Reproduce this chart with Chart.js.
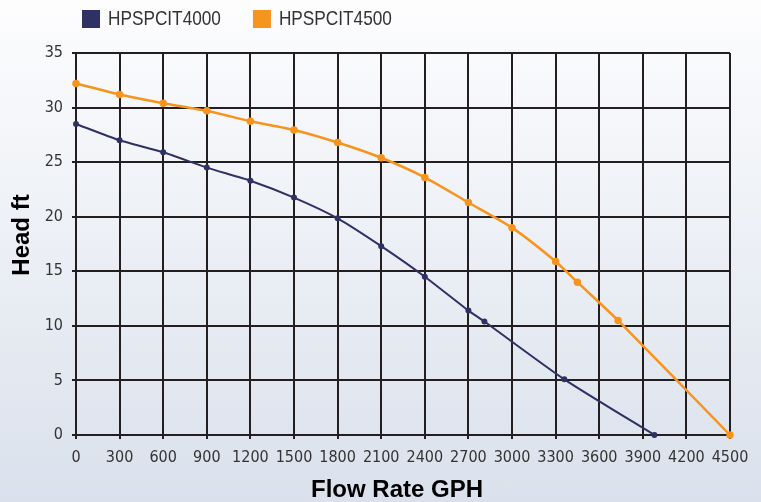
<!DOCTYPE html>
<html><head><meta charset="utf-8">
<script src="https://cdn.jsdelivr.net/npm/chart.js@4.4.1/dist/chart.umd.min.js"></script>
<style>
html,body{margin:0;padding:0;}
body{width:761px;height:502px;background:linear-gradient(to bottom,#fdfdfe 0%,#dae1ec 100%);overflow:hidden;}
canvas{display:block;}
</style></head><body>
<canvas id="c" width="761" height="502"></canvas>
<script>
const seriesNames = ['HPSPCIT4000', 'HPSPCIT4500'];
const seriesColors = ['#2f3063', '#f7941d'];
const flow4000 = [0, 300, 600, 900, 1200, 1500, 1800, 2100, 2400, 2700, 2810, 3360, 3980];
const head4000 = [28.5, 27.0, 25.9, 24.5, 23.3, 21.75, 19.85, 17.3, 14.5, 11.4, 10.4, 5.1, 0];
const flow4500 = [0, 300, 600, 900, 1200, 1500, 1800, 2100, 2400, 2700, 3000, 3300, 3450, 3730, 4500];
const head4500 = [32.2, 31.2, 30.4, 29.7, 28.75, 27.95, 26.8, 25.4, 23.6, 21.3, 19.0, 15.9, 14.0, 10.5, 0];
const xTickValues = [0, 300, 600, 900, 1200, 1500, 1800, 2100, 2400, 2700, 3000, 3300, 3600, 3900, 4200, 4500];
const yTickValues = [0, 5, 10, 15, 20, 25, 30, 35];
const xTitle = 'Flow Rate GPH';
const yTitle = 'Head ft';

const TICKFONT = "'DejaVu Sans Condensed', 'Liberation Sans Narrow', 'Liberation Sans', sans-serif";
const SANS = "'Liberation Sans', Arial, sans-serif";
const GRID = '#231f20';

const pts = (xs, ys) => xs.map((x, i) => ({x: x, y: ys[i]}));

const overlay = {
  id: 'overlay',
  afterDraw(chart) {
    const ctx = chart.ctx;
    ctx.save();
    // legend (condensed Helvetica look)
    ctx.textBaseline = 'middle';
    ctx.textAlign = 'left';
    ctx.font = '21px ' + SANS;
    const sx = 0.82;
    let x = 82;
    chart.data.datasets.forEach((ds) => {
      ctx.fillStyle = ds.borderColor;
      ctx.fillRect(x, 10, 18, 18);
      ctx.fillStyle = '#333333';
      ctx.save();
      ctx.translate(x + 26, 19.5);
      ctx.scale(sx, 1);
      ctx.fillText(ds.label, 0, 0);
      ctx.restore();
      x = x + 26 + ctx.measureText(ds.label).width * sx + 32;
    });
    // axis titles
    ctx.fillStyle = '#000000';
    ctx.font = 'bold 24px ' + SANS;
    ctx.textAlign = 'center';
    ctx.fillText(xTitle, 397, 490);
    ctx.translate(22.5, 235);
    ctx.rotate(-Math.PI / 2);
    ctx.fillText(yTitle, 0, 0);
    ctx.restore();
  }
};

new Chart(document.getElementById('c'), {
  type: 'line',
  data: {
    datasets: [
      {label: seriesNames[0], data: pts(flow4000, head4000), borderColor: seriesColors[0], backgroundColor: seriesColors[0],
       borderWidth: 2, pointRadius: 2, pointHoverRadius: 2, tension: 0.2, clip: false, fill: false},
      {label: seriesNames[1], data: pts(flow4500, head4500), borderColor: seriesColors[1], backgroundColor: seriesColors[1],
       borderWidth: 2.5, pointRadius: 2.5, pointHoverRadius: 2.5, tension: 0.2, clip: false, fill: false}
    ]
  },
  options: {
    responsive: false,
    animation: false,
    devicePixelRatio: 1,
    layout: {padding: {top: 53, right: 31, left: 0, bottom: 0}},
    plugins: {legend: {display: false}, tooltip: {enabled: false}},
    scales: {
      x: {
        type: 'linear', min: 0, max: 4500,
        afterBuildTicks: (s) => { s.ticks = xTickValues.map(v => ({value: v})); },
        afterFit: (s) => { s.height = 67; },
        ticks: {color: '#333333', font: {family: TICKFONT, size: 16}, padding: 9, maxRotation: 0, autoSkip: false,
                callback: (v) => String(v)},
        grid: {color: GRID, lineWidth: 2, tickLength: 4, drawTicks: true},
        border: {color: GRID, width: 2}
      },
      y: {
        min: 0, max: 35,
        afterBuildTicks: (s) => { s.ticks = yTickValues.map(v => ({value: v})); },
        afterFit: (s) => { s.width = 76; },
        ticks: {color: '#333333', font: {family: TICKFONT, size: 16}, padding: 9, autoSkip: false,
                callback: (v) => String(v)},
        grid: {color: GRID, lineWidth: 2, tickLength: 4, drawTicks: true},
        border: {color: GRID, width: 2}
      }
    }
  },
  plugins: [overlay]
});
</script>
</body></html>
